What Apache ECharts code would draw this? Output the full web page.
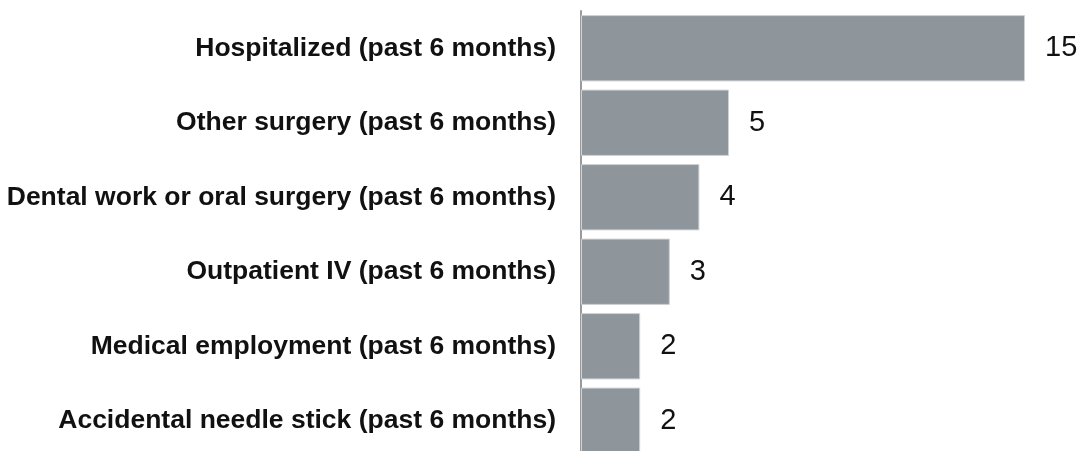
<!DOCTYPE html>
<html>
<head>
<meta charset="utf-8">
<script src="https://cdn.jsdelivr.net/npm/echarts@6/dist/echarts.min.js"></script>
<style>
  html, body { margin: 0; padding: 0; background: #fff; }
  #chart { width: 1083px; height: 451px; }
</style>
</head>
<body>
<div id="chart"></div>
<script>
const categories = [
  'Hospitalized (past 6 months)',
  'Other surgery (past 6 months)',
  'Dental work or oral surgery (past 6 months)',
  'Outpatient IV (past 6 months)',
  'Medical employment (past 6 months)',
  'Accidental needle stick (past 6 months)'
]
const counts = [15, 5, 4, 3, 2, 2]

const myChart = echarts.init(document.getElementById('chart'))
let option = {
  animation: false,
  grid: {
    left: 581,
    right: 58,
    top: 11,
    height: 447,
    containLabel: false,
    outerBoundsMode: 'none'
  },
  xAxis: {
    type: 'value',
    min: 0,
    max: 15,
    show: false,
    splitLine: { show: false }
  },
  yAxis: {
    type: 'category',
    data: categories,
    inverse: true,
    axisLine: { show: true, lineStyle: { color: '#9a9a9a', width: 2 } },
    axisTick: { show: false },
    axisLabel: {
      margin: 25,
      color: '#111',
      fontFamily: '"Liberation Sans", Arial, sans-serif',
      fontWeight: 'bold',
      fontSize: 26.5
    }
  },
  series: [{
    type: 'bar',
    data: counts,
    barCategoryGap: '11%',
    itemStyle: {
      color: '#8e959b',
      borderColor: '#cfd2d5',
      borderWidth: 1
    },
    label: {
      show: true,
      position: 'right',
      distance: 20,
      color: '#111',
      fontFamily: '"Liberation Sans", Arial, sans-serif',
      fontSize: 29
    }
  }]
}
option && myChart.setOption(option)
</script>
</body>
</html>
